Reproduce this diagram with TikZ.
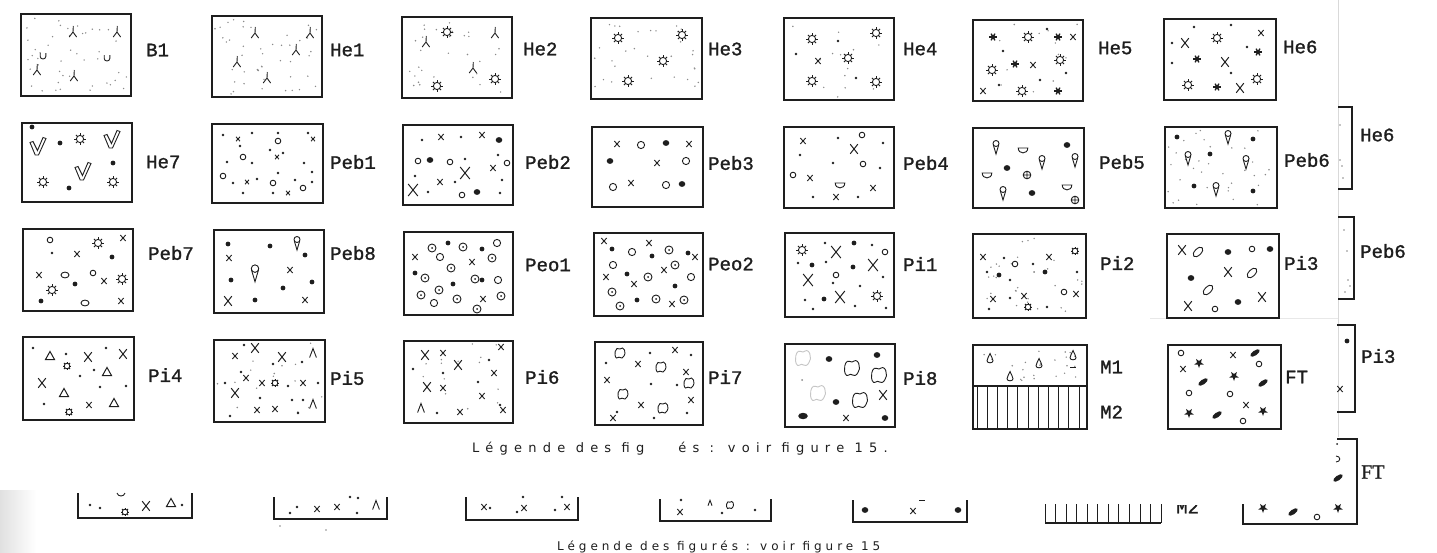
\documentclass[tikz,border=0pt]{standalone}
\usepackage{fontspec}
\newfontfamily\labfont[FakeBold=1.3]{Liberation Mono}
\newfontfamily\capfont[LetterSpace=48]{DejaVu Sans}
\newfontfamily\capfontb[LetterSpace=33]{DejaVu Sans}
\newfontfamily\serifl[FakeBold=1]{Liberation Serif}
\definecolor{ink}{HTML}{1E1E1E}
\definecolor{speckc}{HTML}{8A8A8A}
\tikzset{
 boxline/.style={draw=ink,line width=1.2pt},
 sl/.style={draw=ink,line width=0.9pt},
 speck/.style={fill=speckc},
 lab/.style={font=\labfont\fontsize{19}{19}\selectfont,inner sep=0pt,text=ink,anchor=west},
 capt/.style={font=\capfont\fontsize{13}{13}\selectfont,inner sep=0pt,text=ink},
 captb/.style={font=\capfontb\fontsize{12}{12}\selectfont,inner sep=0pt,text=ink},
 pics/sdot/.style={code={\fill[ink] (0,0) circle (1.3);}},
 pics/mdot/.style={code={\fill[ink] (0,0) circle (2.4);}},
 pics/bdot/.style={code={\fill[ink] (0,0) ellipse (3.3 and 2.9);}},
 pics/xt/.style={code={\draw[sl] (-2,-2.2)--(2,2.2) (-2,2.2)--(2,-2.2);}},
 pics/xs/.style={code={\draw[sl] (-2.7,-3)--(2.7,3) (-2.7,3)--(2.7,-3);}},
 pics/xm/.style={code={\draw[sl,line width=1pt] (-3.8,-4.8)--(3.8,4.8) (-3.8,4.8)--(3.8,-4.8);}},
 pics/xb/.style={code={\draw[sl,line width=1pt] (-4.8,-6)--(4.8,6) (-4.8,6)--(4.8,-6);}},
 pics/oc/.style={code={\draw[sl] (0,0) circle (2.8);}},
 pics/ocb/.style={code={\draw[sl] (0,0) circle (3.6);}},
 pics/oe/.style={code={\draw[sl] (0,0) ellipse (4 and 2.9);}},
 pics/sun/.style={code={\draw[sl] (0,0) circle (3.6);
   \foreach \ang in {0,45,...,315} \draw[sl] (\ang:3.6) -- (\ang:5.8);}},
 pics/suns/.style={code={\draw[sl] (0,0) circle (2.8);
   \foreach \ang in {0,45,...,315} \draw[sl] (\ang:2.8) -- (\ang:4.4);}},
 pics/lam/.style={code={\draw[sl] (0.3,-6)--(0,0) (0,0)--(-3.8,5) (0,0)--(3.6,5);}},
 pics/lamb/.style={code={\draw[sl] (-3.4,4.5)--(0,-4.5)--(3.4,4.5);}},
 pics/ups/.style={code={\draw[sl] (-2.8,-3) -- (-2.8,0.5) .. controls (-2.8,3.8) and (2.8,3.8) .. (2.8,0.5) -- (2.8,-3);}},
 pics/vee/.style={code={\draw[sl] (-8,-4.5) -- (-5,-5.5) -- (-0.5,3.5) -- (5,-9.5) -- (8,-8.5) -- (0.5,8) -- (-2.8,8) -- cycle;}},
 pics/astar/.style={code={\fill[ink] (0,0) circle (2.2);
   \foreach \ang in {0,60,...,300} \draw[ink,line width=1.3pt] (0,0) -- (\ang:3.9);}},
 pics/cone/.style={code={\draw[sl] (0,-3.5) circle (3); \draw[sl] (-2.8,-2.5) -- (0,7) -- (2.8,-2.5);}},
 pics/hmoon/.style={code={\draw[sl] (-4.8,-2) -- (4.8,-2) .. controls (4.8,4.5) and (-4.8,4.5) .. cycle;}},
 pics/oplus/.style={code={\draw[sl] (0,0) circle (3.8) (-3.8,0)--(3.8,0) (0,-3.8)--(0,3.8);}},
 pics/odot/.style={code={\draw[sl] (0,0) circle (4); \fill[ink] (0,0) circle (1);}},
 pics/tri/.style={code={\draw[sl,line width=1pt] (0,-4.5) -- (4.5,3.5) -- (-4.5,3.5) -- cycle;}},
 pics/blob/.style={code={\draw[sl] plot[smooth cycle,tension=0.8] coordinates {(5,0.5) (4,3) (2,5) (-1,4.2) (-3.5,5) (-5,2) (-4.8,-1.5) (-3,-4.5) (0,-4) (2.5,-5) (4.5,-3)};}},
 pics/blobf/.style={code={\draw[sl,draw=gray!45] plot[smooth cycle,tension=0.8] coordinates {(5,0.5) (4,3) (2,5) (-1,4.2) (-3.5,5) (-5,2) (-4.8,-1.5) (-3,-4.5) (0,-4) (2.5,-5) (4.5,-3)};}},
 pics/drop/.style={code={\draw[sl] (0,-5.5) .. controls (0.8,-2.5) and (3,-1) .. (3,1.8) .. controls (3,4.5) and (-3,4.5) .. (-3,1.8) .. controls (-3,-1) and (-0.8,-2.5) .. cycle;}},
 pics/oval/.style={code={\draw[sl,rotate=45] (0,0) ellipse (6 and 3.2);}},
 pics/fell/.style={code={\fill[ink,rotate=35] (0,0) ellipse (5.5 and 2.4);}},
 pics/fstar/.style={code={\fill[ink] (90:5)--(126:2)--(162:5)--(198:2)--(234:5)--(270:2)--(306:5)--(342:2)--(18:5)--(54:2)--cycle;}},
}
\newcommand\sym[2]{\foreach \a/\b in {#2}{\pic at (\a,\b) {#1};}}
\newcommand\symsc[3]{\foreach \a/\b in {#3}{\pic[scale=#2] at (\a,\b) {#1};}}
\newcommand\speckle[5]{\foreach \k in {1,...,#5}{\fill[speck] ({#1+3+rnd*(#3-#1-6)},{#2+3+rnd*(#4-#2-6)}) circle (0.8);}}
\newcommand\bx[4]{\draw[boxline] (#1,#2) rectangle (#3,#4);}
\begin{document}
\begin{tikzpicture}[x=1pt,y=-1pt]
\pgfmathsetseed{7}
\useasboundingbox (0,0) rectangle (1437,552);
\fill[white] (0,0) rectangle (1437,552);
\shade[left color=black!12,right color=white] (0,490) rectangle (36,552);
% page edge
\draw[gray!30,line width=1pt] (1338,0) -- (1338,437);
\draw[gray!18,line width=1pt] (1150,318) -- (1338,318);

% ---------- Row 1 ----------
\bx{21}{14}{131}{96}
\speckle{21}{14}{131}{96}{45}
\sym{lam}{73/32,117/32,37/70,74/76}
\sym{ups}{43/56,107/58}
\node[lab] (lB1) at (146,50) {B1};

\bx{212}{16}{322}{97}
\speckle{212}{16}{322}{97}{45}
\sym{lam}{255/33,310/33,296/50,237/62,267/78}
\node[lab] (lHe1) at (330,50) {He1};

\bx{402}{17}{512}{98}
\speckle{402}{17}{512}{98}{30}
\sym{lam}{426/42,473/68,495/33}
\sym{sun}{447/32,437/86,495/79}
\node[lab] (lHe2) at (523,49) {He2};

\bx{591}{18}{702}{99}
\speckle{591}{18}{702}{99}{30}
\sym{sun}{618/38,682/35,663/61,628/81}
\node[lab] (lHe3) at (708,49) {He3};

\bx{784}{18}{894}{100}
\speckle{784}{18}{894}{100}{14}
\sym{sun}{812/39,876/33,848/58,812/81,876/82}
\sym{sdot}{838/41,796/54,856/78}
\sym{xs}{818/61}
\node[lab] (lHe4) at (903,49) {He4};

\bx{973}{20}{1083}{101}
\speckle{973}{20}{1083}{101}{12}
\sym{astar}{993/37,1058/37,1015/64,1058/91}
\sym{sun}{1028/37,1060/60,992/70,1022/91}
\sym{xs}{1073/37,1033/65,983/91}
\sym{sdot}{1047/29,1003/51,1040/80,999/85,1066/73}
\node[lab] (lHe5) at (1098,48) {He5};

\bx{1164}{19}{1276}{100}
\sym{sdot}{1194/27,1231/25,1172/43,1172/63,1247/47,1231/73}
\sym{astar}{1258/52,1197/59,1217/87}
\sym{xm}{1185/43,1225/62,1240/88}
\sym{xs}{1261/33}
\sym{sun}{1217/38,1188/85,1257/79}
\node[lab] (lHe6) at (1283,47) {He6};

% ---------- Row 2 ----------
\bx{22}{123}{132}{202}
\sym{mdot}{32/127,60/143,113/163,69/188}
\sym{vee}{38/147,112/140,83/172}
\sym{sun}{80/139,43/182,113/182}
\node[lab] (lHe7) at (146,162) {He7};

\bx{212}{124}{323}{203}
\sym{sdot}{223/135,252/133,278/133,240/146,270/150,283/153,227/162,252/163,304/163,278/173,312/172,233/183,257/179,295/180,243/193,273/193,312/182,308/133}
\sym{oc}{278/141,243/157,223/176,273/183,303/188}
\sym{xt}{238/139,313/139,277/157,247/182,288/193}
\node[lab] (lPeb1) at (330,162) {Peb1};

\bx{403}{125}{513}{205}
\sym{sdot}{422/140,461/137,465/159,498/155,415/176,428/192,455/182,502/180,500/193}
\sym{xs}{441/137,482/135,440/182,493/168}
\sym{bdot}{499/140,430/160,477/192}
\sym{oc}{418/161,450/162,507/163,462/195}
\sym{xb}{413/190,465/173}
\node[lab] (lPeb2) at (525,162) {Peb2};

\bx{592}{127}{703}{207}
\sym{xs}{617/144,689/144,657/163,631/183}
\sym{ocb}{641/145,686/161,613/187,666/185}
\sym{bdot}{666/143,610/161,682/184}
\node[lab] (lPeb3) at (708,163) {Peb3};

\bx{784}{127}{894}{208}
\sym{xs}{803/141,810/178,873/188,836/197}
\sym{xm}{854/149}
\sym{sdot}{838/138,883/143,800/155,833/163,880/168,813/197,858/197}
\sym{oc}{862/135,863/164,793/175}
\sym{hmoon}{840/185}
\node[lab] (lPeb4) at (903,163) {Peb4};

\bx{973}{128}{1084}{208}
\sym{cone}{996/147,1042/162,1075/160,1003/193}
\sym{hmoon}{1023/150,987/175,1067/187}
\sym{bdot}{1067/145,1007/168,1032/193}
\sym{oplus}{1027/175,1075/200}
\node[lab] (lPeb5) at (1099,162) {Peb5};

\bx{1165}{127}{1277}{208}
\speckle{1165}{127}{1277}{208}{35}
\sym{mdot}{1177/137,1253/139,1210/154,1194/186,1253/191}
\sym{cone}{1228/137,1188/158,1246/162,1216/189}
\node[lab] (lPeb6) at (1284,160) {Peb6};

% ---------- Row 3 ----------
\bx{23}{229}{133}{311}
\sym{oc}{50/240,93/273}
\sym{oe}{65/275,85/303}
\sym{sun}{98/243,122/279,52/290}
\sym{xs}{123/238,77/254,39/275,104/281,121/301}
\sym{mdot}{112/257,75/284,41/301}
\sym{sdot}{52/253}
\node[lab] (lPeb7) at (148,253) {Peb7};

\bx{214}{230}{324}{313}
\sym{mdot}{228/244,270/246,305/255,231/280,312/282,283/288,255/300}
\sym{cone}{297/243}
\symsc{cone}{1.25}{255/273}
\sym{xs}{229/258,290/270,305/300}
\sym{xm}{228/301}
\node[lab] (lPeb8) at (330,253) {Peb8};

\bx{404}{232}{513}{315}
\sym{odot}{432/248,463/247,451/268,425/278,475/279,421/295,439/290,457/299,477/309,492/258,501/296}
\sym{ocb}{440/257,434/303,497/243,498/280}
\sym{mdot}{448/243,415/273,453/284,482/249,482/280}
\sym{xs}{415/257,472/262,483/299}
\node[lab] (lPeo1) at (525,265) {Peo1};

\bx{594}{233}{703}{316}
\sym{xs}{604/241,649/243,695/257,606/277,634/284,664/270,672/304}
\sym{mdot}{612/249,652/256,688/253,627/274,675/286,637/300}
\sym{ocb}{632/252,613/265,691/277}
\sym{odot}{669/250,648/277,675/265,612/292,620/306,656/299,684/300}
\node[lab] (lPeo2) at (708,264) {Peo2};

\bx{785}{233}{894}{317}
\sym{sun}{802/250,877/296}
\sym{xb}{836/252,873/265,808/280,840/297}
\sym{mdot}{854/243,812/265,853/267,824/299}
\sym{sdot}{825/243,872/245,798/263,826/262,833/283,860/286,883/277,805/300,813/309,855/306,886/308}
\sym{oc}{885/252,836/275}
\node[lab] (lPi1) at (903,264) {Pi1};

\bx{973}{234}{1086}{318}
\speckle{973}{234}{1086}{318}{30}
\sym{xs}{983/257,1049/257,993/299,1024/296,1076/294}
\sym{suns}{1075/251,1028/307}
\sym{sdot}{1004/258,1033/264,987/272,1010/280,1077/272,1010/298,989/309,1047/307}
\sym{oc}{1015/264,1064/292}
\sym{mdot}{999/275,1045/272}
\node[lab] (lPi2) at (1100,263) {Pi2};

\bx{1167}{234}{1279}{318}
\sym{xm}{1182/250,1228/272,1262/297,1188/306}
\sym{oval}{1198/252,1252/273,1208/290}
\sym{bdot}{1228/252,1270/249,1191/278,1238/302}
\sym{oc}{1252/249,1215/309}
\node[lab] (lPi3) at (1284,263) {Pi3};

% ---------- Row 4 ----------
\bx{23}{337}{134}{420}
\sym{tri}{50/356,107/372,64/393,114/403}
\sym{xm}{88/357,123/354,42/383}
\sym{xs}{89/405}
\sym{suns}{67/366,69/412}
\sym{sdot}{66/354,106/348,80/376,94/370,100/387,126/386,44/404,33/348}
\node[lab] (lPi4) at (148,375) {Pi4};

\bx{214}{340}{325}{422}
\speckle{214}{340}{325}{422}{15}
\sym{xs}{235/356,246/378,262/383,303/383,257/410,275/409}
\sym{xm}{255/348,282/357,235/393}
\sym{lamb}{313/353,313/404}
\sym{suns}{275/383}
\sym{sdot}{244/345,273/364,302/362,241/372,288/386,318/383,225/383,260/398,292/400,303/400,298/413,230/416}
\node[lab] (lPi5) at (330,378) {Pi5};

\bx{404}{341}{513}{423}
\speckle{404}{341}{513}{423}{15}
\sym{xm}{425/355,458/365,427/387}
\sym{xs}{443/353,443/388,460/412,501/347,494/373,482/396,503/410}
\sym{lamb}{421/408}
\sym{sdot}{413/369,443/373,478/382,437/413,489/360,500/405}
\node[lab] (lPi6) at (525,377) {Pi6};

\bx{595}{342}{703}{425}
\sym{blob}{620/353,661/367,689/383,623/394,663/408}
\sym{sdot}{650/353,691/355,606/363,651/384,677/385,617/412,654/418,687/413}
\sym{xs}{675/350,638/364,686/372,607/380,691/400,641/405,613/418}
\node[lab] (lPi7) at (708,377) {Pi7};

\bx{785}{344}{895}{427}
\symsc{blob}{1.5}{852/368,879/375,860/400}
\symsc{blobf}{1.5}{803/358,818/393}
\sym{bdot}{829/359,877/355,836/402,885/418}
\fill[ink] (803,416) ellipse (4.8 and 3.2);
\sym{xm}{883/395}
\sym{xs}{846/418}
\fill[speck] (802,380) circle (1);
\node[lab] (lPi8) at (903,378) {Pi8};

\bx{973}{345}{1087}{429}
\draw[boxline] (973,386) -- (1087,386);
\foreach \i in {0,...,10} \draw[sl,line width=0.8pt] ({977+10.2*\i},386) -- ({977+10.2*\i},429);
\speckle{973}{345}{1087}{386}{25}
\sym{drop}{990/359,1039/364,1073/356,1010/377}
\draw[sl] (1070,367) -- (1076,367);
\node[lab] (lM1) at (1100,367) {M1};
\node[lab] (lM2) at (1100,412) {M2};

\bx{1168}{345}{1281}{429}
\sym{oc}{1181/353,1259/364,1189/393,1230/394,1243/421}
\sym{xs}{1183/369,1233/355,1246/405}
\sym{fstar}{1199/363,1234/376,1263/411,1189/413}
\sym{fell}{1255/353,1203/382,1263/383,1217/415}
\node[lab] (lFT) at (1285,377) {FT};

% ---------- captions ----------
\node[capt,anchor=west] (cap1a) at (472,449) {Légende des fig};
\node[capt,anchor=east] (cap1b) at (888,449) {és : voir figure 15.};
\node[captb,anchor=west] (cap2) at (557,547) {Légende des figurés : voir figure 15};

% ---------- right strip (page underneath) ----------
\draw[boxline] (1338,107) -- (1352,107) -- (1352,189) -- (1338,189);
\fill[speck] (1340,160) circle (0.8) (1342,166) circle (0.8) (1343,178) circle (0.8) (1340,125) circle (0.8);
\node[lab] (rHe6) at (1360,135) {He6};
\draw[boxline] (1338,217) -- (1354,217) -- (1354,299) -- (1338,299);
\fill[speck] (1344,230) circle (0.8) (1347,251) circle (0.8) (1348,280) circle (0.8) (1350,286) circle (0.8) (1345,292) circle (0.8);
\node[lab] (rPeb6) at (1360,251) {Peb6};
\draw[boxline] (1337,325) -- (1355,325) -- (1355,412) -- (1337,412);
\sym{mdot}{1347/341}
\sym{xs}{1340/389}
\node[lab] (rPi3) at (1361,356) {Pi3};
\draw[boxline] (1337,439) -- (1357,439) -- (1357,524) -- (1243,524) -- (1243,504);
\fill[ink] (1337,444) circle (1);
\draw[sl] (1336,456) .. controls (1341,456) and (1341,462) .. (1336,462);
\sym{fell}{1338/478,1293/512}
\sym{fstar}{1338/508,1263/508}
\sym{oc}{1317/517}
\node[font=\serifl\fontsize{20}{20}\selectfont,inner sep=0pt,anchor=west,text=ink] (rFT) at (1361,472) {FT};

% ---------- bottom partial boxes ----------
\draw[boxline] (78,493) -- (78,518) -- (192,518) -- (192,493);
\sym{sdot}{90/505,100/508,182/505}
\draw[sl] (117,493) .. controls (118,497) and (124,497) .. (125,493);
\sym{suns}{125/512}
\sym{xm}{146/506}
\sym{tri}{171/503}

\draw[boxline] (274,497) -- (274,519) -- (387,519) -- (387,497);
\sym{sdot}{290/513,297/507,350/497,358/498,357/513}
\sym{xs}{317/509,337/507}
\sym{lamb}{376/505}
\fill[speck] (280,526) circle (0.9) (326,530) circle (0.9);

\draw[boxline] (466,497) -- (466,520) -- (578,520) -- (578,497);
\sym{xs}{484/507,524/508,567/507}
\sym{sdot}{490/508,517/512,523/497,555/510,562/497}

\draw[boxline] (660,499) -- (660,521) -- (771,521) -- (771,499);
\sym{xs}{680/512}
\sym{sdot}{681/500,722/513,755/510}
\symsc{lamb}{0.6}{710/503}
\symsc{blob}{0.7}{730/505}

\draw[boxline] (853,500) -- (853,522) -- (967,522) -- (967,500);
\sym{bdot}{865/510,958/510}
\sym{xs}{913/511}
\draw[sl] (919,500) -- (925,500);

\draw[boxline] (1045,523) -- (1161,523);
\foreach \i in {0,...,11} \draw[sl,line width=0.8pt] ({1045+10.55*\i},504) -- ({1045+10.55*\i},523);
\begin{scope}
\clip (1170,505) rectangle (1215,520);
\node[lab] (bM2) at (1176,507) {M2};
\end{scope}
\end{tikzpicture}
\end{document}
